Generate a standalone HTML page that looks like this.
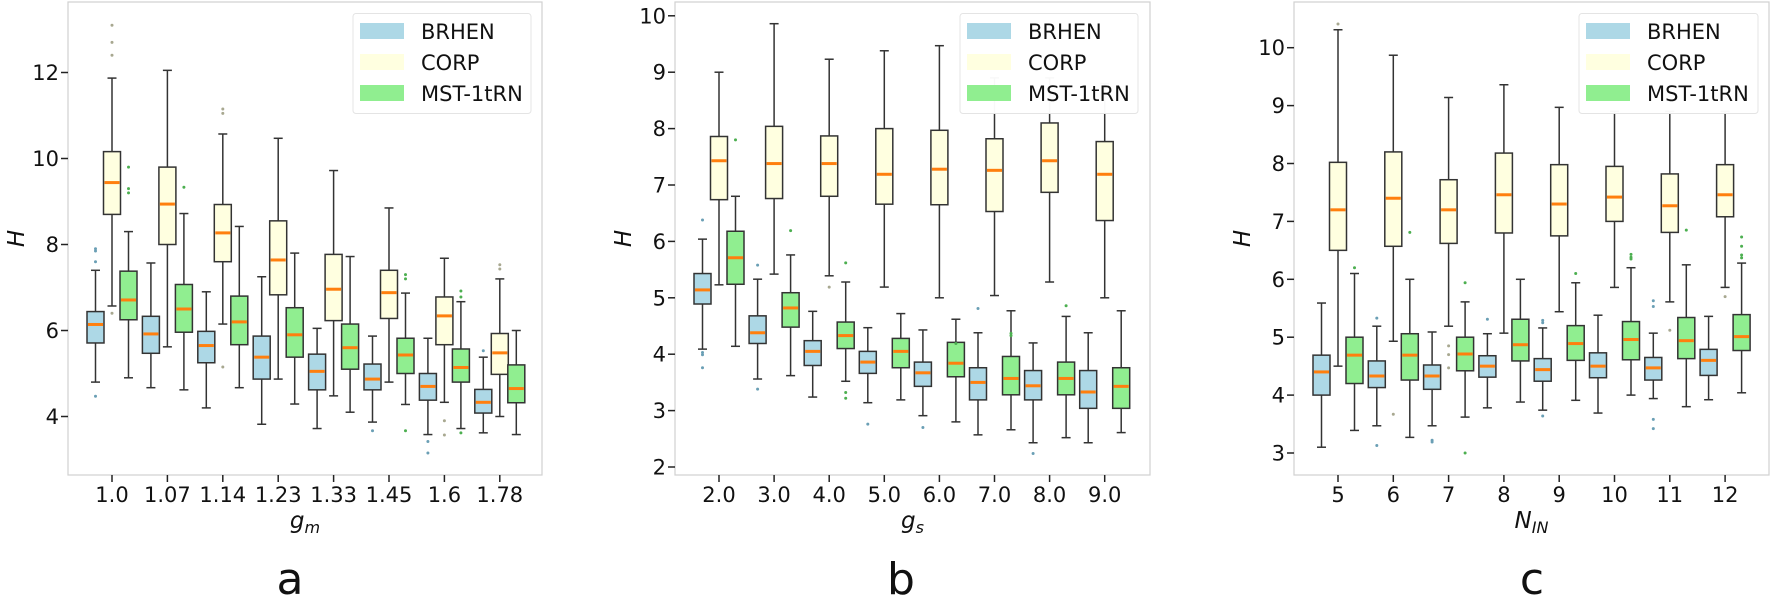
<!DOCTYPE html>
<html><head><meta charset="utf-8"><style>
html,body{margin:0;padding:0;background:#fff;}
svg{display:block;font-family:"DejaVu Sans","Liberation Sans",sans-serif;}
</style></head><body>
<svg id="s" width="1772" height="599" xmlns="http://www.w3.org/2000/svg"></svg>
<script>
const S=document.getElementById('s');let h='';
const C=['#add8e6','#ffffe0','#90ee90'];
const panels=[
{L:68,R:542,T:2,B:475,y0v:4,y0p:416.5,ppu:43,ticks:[4,6,8,10,12],tickLbl:v=>v,x0:112,dx:55.4,
 xl:['1.0','1.07','1.14','1.23','1.33','1.45','1.6','1.78'],xlab:'g',sub:'m',letter:'a',lx:290,leg:[353,531],
 d:[
 [[4.8,5.71,6.14,6.44,7.4,[7.9,7.85,7.6,4.47]],[6.57,8.7,9.44,10.16,11.87,[13.1,12.7,12.4,6.4]],[4.9,6.25,6.71,7.38,8.3,[9.8,9.3,9.2]]],
 [[4.67,5.47,5.92,6.33,7.57,[]],[5.62,8.0,8.94,9.8,12.05,[]],[4.62,5.96,6.5,7.07,8.72,[9.33]]],
 [[4.2,5.25,5.65,5.98,6.9,[]],[6.15,7.6,8.27,8.93,10.57,[11.15,11.05,5.15]],[4.67,5.67,6.2,6.8,8.42,[]]],
 [[3.82,4.87,5.38,5.87,7.25,[]],[4.87,6.83,7.64,8.55,10.47,[]],[4.29,5.38,5.9,6.53,7.8,[]]],
 [[3.72,4.62,5.05,5.45,6.05,[]],[4.48,6.23,6.96,7.77,9.72,[]],[4.1,5.1,5.6,6.15,7.72,[]]],
 [[3.87,4.62,4.87,5.22,5.87,[3.67]],[4.8,6.28,6.88,7.4,8.85,[]],[4.28,5.0,5.43,5.82,6.87,[7.3,7.2,3.67]]],
 [[3.58,4.38,4.7,5.0,5.82,[3.42,3.15]],[4.33,5.67,6.34,6.78,7.68,[3.9,3.57]],[3.72,4.8,5.14,5.57,6.67,[6.92,6.78,3.62]]],
 [[3.62,4.08,4.33,4.63,5.38,[5.53]],[4.0,4.98,5.48,5.93,7.2,[7.53,7.43]],[3.58,4.32,4.65,5.2,6.0,[]]]
 ]},
{L:675,R:1150,T:2,B:475,y0v:2,y0p:467,ppu:56.4,ticks:[2,3,4,5,6,7,8,9,10],tickLbl:v=>v,x0:719,dx:55.1,
 xl:['2.0','3.0','4.0','5.0','6.0','7.0','8.0','9.0'],xlab:'g',sub:'s',letter:'b',lx:901,leg:[960,1138],
 d:[
 [[4.09,4.89,5.14,5.43,6.04,[6.38,4.03,3.99,3.76]],[5.23,6.74,7.43,7.86,9.0,[]],[4.14,5.24,5.71,6.18,6.8,[7.8]]],
 [[3.56,4.19,4.38,4.68,5.33,[5.58,3.38]],[5.42,6.76,7.38,8.04,9.86,[]],[3.62,4.48,4.82,5.09,5.76,[6.19]]],
 [[3.24,3.8,4.05,4.24,4.76,[]],[5.39,6.8,7.38,7.87,9.23,[5.19]],[3.52,4.1,4.33,4.57,5.28,[5.62,3.32,3.22]]],
 [[3.14,3.66,3.86,4.05,4.47,[2.76]],[5.19,6.66,7.19,8.0,9.38,[]],[3.19,3.76,4.05,4.28,4.72,[]]],
 [[2.91,3.43,3.67,3.86,4.43,[2.7]],[5.0,6.65,7.28,7.97,9.47,[]],[2.8,3.6,3.84,4.21,4.62,[4.19]]],
 [[2.57,3.19,3.5,3.76,4.38,[4.81]],[5.04,6.53,7.26,7.82,8.9,[]],[2.66,3.28,3.57,3.96,4.77,[4.37,4.33]]],
 [[2.43,3.19,3.44,3.71,4.2,[2.24]],[5.28,6.87,7.43,8.1,8.9,[]],[2.52,3.28,3.57,3.86,4.67,[4.86]]],
 [[2.43,3.04,3.33,3.71,4.38,[]],[5.0,6.37,7.19,7.77,8.8,[]],[2.61,3.04,3.43,3.76,4.77,[]]]
 ]},
{L:1294,R:1769,T:2,B:475,y0v:3,y0p:453,ppu:57.9,ticks:[3,4,5,6,7,8,9,10],tickLbl:v=>v,x0:1338,dx:55.3,
 xl:['5','6','7','8','9','10','11','12'],xlab:'N',sub:'IN',letter:'c',lx:1532,leg:[1579,1758],
 d:[
 [[3.1,4.0,4.4,4.69,5.59,[]],[4.5,6.5,7.2,8.02,10.31,[10.41]],[3.39,4.2,4.69,5.0,6.1,[6.2]]],
 [[3.47,4.13,4.33,4.59,5.19,[5.33,3.13]],[4.93,6.57,7.4,8.2,9.87,[3.67]],[3.27,4.26,4.69,5.06,6.0,[6.81]]],
 [[3.47,4.1,4.33,4.52,5.09,[3.22,3.19]],[5.19,6.62,7.2,7.72,9.14,[4.85,4.7,4.47]],[3.62,4.42,4.71,5.0,5.61,[5.94,3.0]]],
 [[3.78,4.31,4.5,4.68,5.06,[5.31]],[5.07,6.8,7.46,8.18,9.36,[]],[3.88,4.59,4.87,5.31,6.0,[]]],
 [[3.74,4.24,4.44,4.63,5.16,[5.29,5.25,3.64]],[5.44,6.75,7.3,7.98,8.97,[]],[3.91,4.6,4.89,5.2,5.94,[6.1]]],
 [[3.69,4.3,4.5,4.73,5.38,[]],[5.86,7.0,7.42,7.95,8.9,[]],[4.0,4.61,4.96,5.27,6.2,[6.43,6.38,6.35]]],
 [[3.94,4.26,4.47,4.65,5.07,[5.63,5.53,3.58,3.42]],[5.61,6.81,7.27,7.82,8.9,[5.12]],[3.8,4.63,4.94,5.34,6.25,[6.85]]],
 [[3.92,4.34,4.6,4.79,5.36,[]],[5.86,7.08,7.46,7.98,8.9,[5.7]],[4.04,4.77,5.01,5.39,6.28,[6.73,6.57,6.42,6.37]]]
 ]}
];
const oc=['#6a9fb5','#a8a890','#4caf50'];
for(const p of panels){
 const Y=v=>p.y0p-(v-p.y0v)*p.ppu;
 h+=`<rect x="${p.L}" y="${p.T}" width="${p.R-p.L}" height="${p.B-p.T}" fill="#fff" stroke="#d0d0d0" stroke-width="1.2"/>`;
 for(const t of p.ticks){const y=Y(t);h+=`<line x1="${p.L-7}" x2="${p.L}" y1="${y}" y2="${y}" stroke="#222" stroke-width="1.5"/><text x="${p.L-9}" y="${y+7.5}" font-size="21" text-anchor="end" fill="#111">${p.tickLbl(t)}</text>`;}
 p.d.forEach((g,i)=>{const xc=p.x0+i*p.dx;
  h+=`<line x1="${xc}" x2="${xc}" y1="${p.B}" y2="${p.B+7}" stroke="#222" stroke-width="1.5"/><text x="${xc}" y="${p.B+27}" font-size="21" text-anchor="middle" fill="#111">${p.xl[i]}</text>`;
  g.forEach((b,j)=>{const x=xc+(j-1)*16.5,w=17;const [lo,q1,md,q3,hi,out]=b;
   h+=`<line x1="${x}" x2="${x}" y1="${Y(hi)}" y2="${Y(q3)}" stroke="#333" stroke-width="1.5"/><line x1="${x}" x2="${x}" y1="${Y(q1)}" y2="${Y(lo)}" stroke="#333" stroke-width="1.5"/>`;
   h+=`<line x1="${x-4.5}" x2="${x+4.5}" y1="${Y(hi)}" y2="${Y(hi)}" stroke="#333" stroke-width="1.5"/><line x1="${x-4.5}" x2="${x+4.5}" y1="${Y(lo)}" y2="${Y(lo)}" stroke="#333" stroke-width="1.5"/>`;
   h+=`<rect x="${x-w/2}" y="${Y(q3)}" width="${w}" height="${Y(q1)-Y(q3)}" fill="${C[j]}" stroke="#333" stroke-width="1.5"/>`;
   h+=`<line x1="${x-w/2+1}" x2="${x+w/2-1}" y1="${Y(md)}" y2="${Y(md)}" stroke="#ff7f0e" stroke-width="3"/>`;
   for(const o of out)h+=`<circle cx="${x}" cy="${Y(o)}" r="1.5" fill="${oc[j]}"/>`;
  });
 });
 const [a,b]=p.leg;
 h+=`<rect x="${a}" y="13.5" width="${b-a}" height="100" rx="3" fill="#fff" fill-opacity="0.97" stroke="#e4e4e4"/>`;
 ['BRHEN','CORP','MST-1tRN'].forEach((n,k)=>{const yy=31+k*31;h+=`<rect x="${a+7}" y="${yy-8}" width="44" height="16" fill="${C[k]}"/><text x="${a+68}" y="${yy+8}" font-size="21" fill="#111">${n}</text>`;});
 const mx=(p.L+p.R)/2;
 h+=`<text x="${mx}" y="${p.B+53}" font-size="23" font-style="italic" text-anchor="middle" fill="#111">${p.xlab}<tspan font-size="16" dy="5">${p.sub}</tspan></text>`;
 h+=`<text transform="translate(${p.L-44},${(p.T+p.B)/2}) rotate(-90)" font-size="23" font-style="italic" text-anchor="middle" fill="#111">H</text>`;
 h+=`<text x="${p.lx}" y="594" font-size="44" text-anchor="middle" fill="#111">${p.letter}</text>`;
}
S.innerHTML=h;
</script>
</body></html>
